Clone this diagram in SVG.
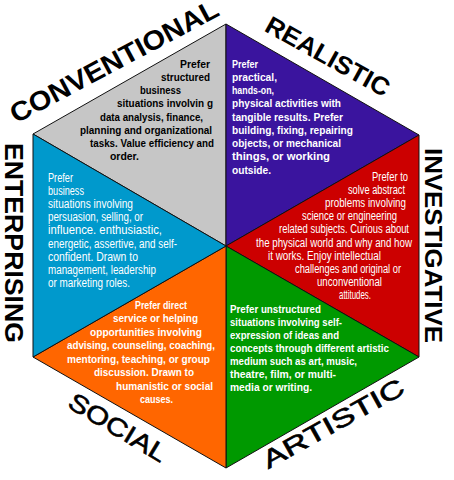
<svg xmlns="http://www.w3.org/2000/svg" width="454" height="480" viewBox="0 0 454 480">
<style>
.tri{stroke:#111;stroke-width:1;stroke-linejoin:miter}
.b{font-family:"Liberation Sans",Arial,sans-serif;font-size:11.5px;font-weight:bold;fill:#fff}
.r{font-weight:normal;font-size:12px}
.k{fill:#000}
.lab{font-family:"Liberation Sans",Arial,sans-serif;font-weight:bold;fill:#000;text-anchor:middle}
.lab2{font-family:"Liberation Sans",Arial,sans-serif;font-weight:normal;fill:#000;text-anchor:middle;stroke:#000;stroke-width:0.6}
</style>
<rect width="454" height="480" fill="#fff"/>
<g id="conventional">
<polygon class="tri" points="33,134 226,24 226,246" fill="#c6c6c6"/>
<text class="lab" font-size="27" transform="translate(114,61) rotate(-28)" x="0" y="9.5" textLength="232" lengthAdjust="spacingAndGlyphs">CONVENTIONAL</text>
<g class="b k">
<text x="180" y="67.5" textLength="30" lengthAdjust="spacingAndGlyphs">Prefer</text>
<text x="161" y="80.7" textLength="49" lengthAdjust="spacingAndGlyphs">structured</text>
<text x="140" y="94" textLength="41" lengthAdjust="spacingAndGlyphs">business</text>
<text x="117" y="107.2" textLength="96" lengthAdjust="spacingAndGlyphs">situations involvin g</text>
<text x="100" y="120.5" textLength="103" lengthAdjust="spacingAndGlyphs">data analysis, finance,</text>
<text x="80" y="133.7" textLength="132" lengthAdjust="spacingAndGlyphs">planning and organizational</text>
<text x="90" y="147" textLength="124" lengthAdjust="spacingAndGlyphs">tasks. Value efficiency and</text>
<text x="110" y="160.2" textLength="29" lengthAdjust="spacingAndGlyphs">order.</text>
</g>
</g>
<g id="realistic">
<polygon class="tri" points="226,24 419,135 226,246" fill="#3a149e"/>
<text class="lab" font-size="25" transform="translate(328,56) rotate(29)" x="0" y="9" textLength="138" lengthAdjust="spacingAndGlyphs">REALISTIC</text>
<g class="b">
<text x="232" y="67.5" textLength="26" lengthAdjust="spacingAndGlyphs">Prefer</text>
<text x="232" y="80.7" textLength="45" lengthAdjust="spacingAndGlyphs">practical,</text>
<text x="232" y="94" textLength="42" lengthAdjust="spacingAndGlyphs">hands-on,</text>
<text x="232" y="107.2" textLength="109" lengthAdjust="spacingAndGlyphs">physical activities with</text>
<text x="232" y="120.5" textLength="111" lengthAdjust="spacingAndGlyphs">tangible results. Prefer</text>
<text x="232" y="133.7" textLength="121" lengthAdjust="spacingAndGlyphs">building, fixing, repairing</text>
<text x="232" y="147" textLength="109" lengthAdjust="spacingAndGlyphs">objects, or mechanical</text>
<text x="232" y="160.2" textLength="98" lengthAdjust="spacingAndGlyphs">things, or working</text>
<text x="232" y="173.5" textLength="39" lengthAdjust="spacingAndGlyphs">outside.</text>
</g>
</g>
<g id="investigative">
<polygon class="tri" points="419,135 419,357 226,246" fill="#cc0000"/>
<text class="lab" font-size="24" transform="translate(433,245.5) rotate(90)" x="0" y="8" textLength="195" lengthAdjust="spacingAndGlyphs">INVESTIGATIVE</text>
<g class="b r">
<text x="372" y="181" textLength="36" lengthAdjust="spacingAndGlyphs">Prefer to</text>
<text x="348" y="194.1" textLength="57" lengthAdjust="spacingAndGlyphs">solve abstract</text>
<text x="325" y="207.2" textLength="81" lengthAdjust="spacingAndGlyphs">problems involving</text>
<text x="302" y="220.3" textLength="95" lengthAdjust="spacingAndGlyphs">science or engineering</text>
<text x="279" y="233.4" textLength="130" lengthAdjust="spacingAndGlyphs">related subjects. Curious about</text>
<text x="256" y="246.5" textLength="156" lengthAdjust="spacingAndGlyphs">the physical world and why and how</text>
<text x="268" y="259.6" textLength="113" lengthAdjust="spacingAndGlyphs">it works. Enjoy intellectual</text>
<text x="295" y="272.7" textLength="106" lengthAdjust="spacingAndGlyphs">challenges and original or</text>
<text x="317" y="285.8" textLength="65" lengthAdjust="spacingAndGlyphs">unconventional</text>
<text x="339" y="298.9" textLength="32" lengthAdjust="spacingAndGlyphs">attitudes.</text>
</g>
</g>
<g id="artistic">
<polygon class="tri" points="419,357 226,468 226,246" fill="#009900"/>
<text class="lab2" font-size="25" transform="translate(333,423) rotate(-29)" x="0" y="9" textLength="158" lengthAdjust="spacingAndGlyphs">ARTISTIC</text>
<g class="b">
<text x="230" y="313" textLength="91" lengthAdjust="spacingAndGlyphs">Prefer unstructured</text>
<text x="230" y="326" textLength="112" lengthAdjust="spacingAndGlyphs">situations involving self-</text>
<text x="230" y="339" textLength="109" lengthAdjust="spacingAndGlyphs">expression of ideas and</text>
<text x="230" y="352" textLength="159" lengthAdjust="spacingAndGlyphs">concepts through different artistic</text>
<text x="230" y="365" textLength="127" lengthAdjust="spacingAndGlyphs">medium such as art, music,</text>
<text x="230" y="378" textLength="106" lengthAdjust="spacingAndGlyphs">theatre, film, or multi-</text>
<text x="230" y="391" textLength="82" lengthAdjust="spacingAndGlyphs">media or writing.</text>
</g>
</g>
<g id="social">
<polygon class="tri" points="226,468 33,357 226,246" fill="#ff6600"/>
<text class="lab2" font-size="25" transform="translate(118,427) rotate(31)" x="0" y="9" textLength="110" lengthAdjust="spacingAndGlyphs">SOCIAL</text>
<g class="b">
<text x="135" y="309" textLength="52" lengthAdjust="spacingAndGlyphs">Prefer direct</text>
<text x="113" y="322.4" textLength="85" lengthAdjust="spacingAndGlyphs">service or helping</text>
<text x="90" y="335.8" textLength="112" lengthAdjust="spacingAndGlyphs">opportunities involving</text>
<text x="67" y="349.2" textLength="148" lengthAdjust="spacingAndGlyphs">advising, counseling, coaching,</text>
<text x="67" y="362.8" textLength="143" lengthAdjust="spacingAndGlyphs">mentoring, teaching, or group</text>
<text x="94" y="376" textLength="100" lengthAdjust="spacingAndGlyphs">discussion. Drawn to</text>
<text x="116" y="389.6" textLength="97" lengthAdjust="spacingAndGlyphs">humanistic or social</text>
<text x="140" y="403" textLength="33" lengthAdjust="spacingAndGlyphs">causes.</text>
</g>
</g>
<g id="enterprising">
<polygon class="tri" points="33,357 33,134 226,246" fill="#0099cc"/>
<text class="lab" font-size="26" transform="translate(15,243) rotate(90)" x="0" y="10" textLength="200" lengthAdjust="spacingAndGlyphs">ENTERPRISING</text>
<g class="b r">
<text x="48" y="182" textLength="25" lengthAdjust="spacingAndGlyphs">Prefer</text>
<text x="48" y="195.1" textLength="36" lengthAdjust="spacingAndGlyphs">business</text>
<text x="48" y="208.2" textLength="85" lengthAdjust="spacingAndGlyphs">situations involving</text>
<text x="48" y="221.3" textLength="95" lengthAdjust="spacingAndGlyphs">persuasion, selling, or</text>
<text x="48" y="234.4" textLength="114" lengthAdjust="spacingAndGlyphs">influence. enthusiastic,</text>
<text x="48" y="247.5" textLength="129" lengthAdjust="spacingAndGlyphs">energetic, assertive, and self-</text>
<text x="48" y="260.6" textLength="90" lengthAdjust="spacingAndGlyphs">confident. Drawn to</text>
<text x="48" y="273.7" textLength="108" lengthAdjust="spacingAndGlyphs">management, leadership</text>
<text x="48" y="286.8" textLength="82" lengthAdjust="spacingAndGlyphs">or marketing roles.</text>
</g>
</g>
<g id="connectors"/>
</svg>
